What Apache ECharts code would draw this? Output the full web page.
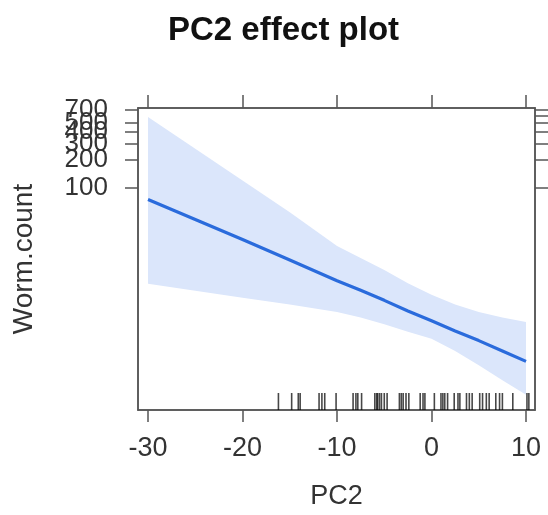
<!DOCTYPE html>
<html>
<head>
<meta charset="utf-8">
<script src="https://cdn.jsdelivr.net/npm/echarts@6/dist/echarts.min.js"></script>
<style>
html,body{margin:0;padding:0;background:#fff;}
#chart{width:548px;height:515px;}
</style>
</head>
<body>
<div id="chart"></div>
<script>
// ---- data ----
const pc2 = [-30, -25, -20, -15, -10, -7.5, -5, -2.5, 0, 2.5, 5, 7.5, 10];
const fitValues = [74, 45, 27.3, 16.4, 9.8, 7.7, 6.0, 4.6, 3.6, 2.8, 2.2, 1.7, 1.31];
const upperValues = [580, 263, 119, 54, 23.2, 17.2, 12.8, 9.2, 6.9, 5.4, 4.5, 3.9, 3.5];
const lowerValues = [9.06, 7.6, 6.4, 5.4, 4.5, 3.9, 3.3, 2.75, 2.3, 1.7, 1.19, 0.82, 0.57];
const rugValues = [-16.2, -14.8, -14.1, -13.9, -11.9, -11.6, -11.3, -10.1, -8.3, -8.0, -7.8,
  -7.4, -6.0, -5.8, -5.7, -5.5, -5.3, -5.0, -4.7, -3.4, -3.2, -3.0, -2.7, -2.4, -1.2, -0.9, -0.7, 0.3,
  1.0, 1.2, 1.4, 1.7, 2.4, 2.8, 3.0, 3.7, 4.0, 4.3, 5.1, 5.4, 5.8, 6.1, 6.8, 7.2, 7.5, 8.6, 10.1, 10.3];
const xTicks = [-30, -20, -10, 0, 10];
const yTicks = [100, 200, 300, 400, 500, 600, 700];
const xMin = -31.06, xMax = 10.95;
const yMin = 0.39, yMax = 725;

const chart = echarts.init(document.getElementById('chart'), null, {renderer: 'canvas'});
const font = '"Liberation Sans", Arial, Helvetica, sans-serif';
const frame = '#555';

const option = {
  animation: false,
  backgroundColor: '#fff',
  title: {
    text: 'PC2 effect plot',
    left: 163, top: 9,
    textStyle: {fontFamily: font, fontSize: 33, fontWeight: 'bold', color: '#111'}
  },
  grid: {left: 138, right: 13, top: 108, bottom: 103, show: true, borderColor: frame, borderWidth: 1.5},
  xAxis: [{
    type: 'value', min: xMin, max: xMax, position: 'bottom',
    name: 'PC2', nameLocation: 'middle', nameGap: 73,
    nameTextStyle: {fontFamily: font, fontSize: 27, color: '#333'},
    axisLine: {show: true, onZero: false, lineStyle: {color: frame, width: 1.5}},
    axisTick: {show: true, length: 12, customValues: xTicks, lineStyle: {color: frame, width: 1.5}},
    axisLabel: {show: true, customValues: xTicks, margin: 25, showMinLabel: true, showMaxLabel: true,
      fontFamily: font, fontSize: 27, color: '#333'},
    splitLine: {show: false}
  }, {
    type: 'value', min: xMin, max: xMax, position: 'top',
    axisLine: {show: true, onZero: false, lineStyle: {color: frame, width: 1.5}},
    axisTick: {show: true, length: 13, customValues: xTicks, lineStyle: {color: frame, width: 1.5}},
    axisLabel: {show: false},
    splitLine: {show: false}
  }],
  yAxis: [{
    type: 'log', logBase: 10, min: yMin, max: yMax, position: 'left',
    name: 'Worm.count', nameLocation: 'middle', nameGap: 100, nameRotate: 90,
    nameTextStyle: {fontFamily: font, fontSize: 28, color: '#333'},
    axisLine: {show: true, onZero: false, lineStyle: {color: frame, width: 1.5}},
    axisTick: {show: true, length: 13, customValues: yTicks, lineStyle: {color: frame, width: 1.5}},
    axisLabel: {show: true, customValues: yTicks, margin: 30, hideOverlap: false,
      showMinLabel: true, showMaxLabel: true,
      fontFamily: font, fontSize: 26, color: '#333'},
    splitLine: {show: false}
  }, {
    type: 'log', logBase: 10, min: yMin, max: yMax, position: 'right',
    axisLine: {show: true, onZero: false, lineStyle: {color: frame, width: 1.5}},
    axisTick: {show: true, length: 13, customValues: yTicks, lineStyle: {color: frame, width: 1.5}},
    axisLabel: {show: false},
    splitLine: {show: false}
  }],
  series: [{
    type: 'custom',
    name: 'band',
    xAxisIndex: 0, yAxisIndex: 0,
    silent: true,
    z: 1,
    data: [[0, 1]],
    renderItem: function (params, api) {
      const pts = [];
      for (let i = 0; i < pc2.length; i++) pts.push(api.coord([pc2[i], upperValues[i]]));
      for (let i = pc2.length - 1; i >= 0; i--) pts.push(api.coord([pc2[i], lowerValues[i]]));
      return {type: 'polygon', shape: {points: pts, smooth: 0}, style: {fill: '#dbe6fb', stroke: null}};
    }
  }, {
    type: 'line',
    name: 'fit',
    xAxisIndex: 0, yAxisIndex: 0,
    data: pc2.map((x, i) => [x, fitValues[i]]),
    showSymbol: false,
    smooth: false,
    z: 3,
    lineStyle: {color: '#2a6bdc', width: 3.2}
  }, {
    type: 'custom',
    name: 'rug',
    xAxisIndex: 0, yAxisIndex: 0,
    silent: true,
    z: 4,
    data: rugValues.map(v => [v, yMin]),
    renderItem: function (params, api) {
      const p = api.coord([api.value(0), yMin]);
      return {type: 'line', shape: {x1: p[0], y1: p[1], x2: p[0], y2: p[1] - 17},
        style: {stroke: 'rgba(0,0,0,0.72)', lineWidth: 1.6}};
    }
  }]
};
chart.setOption(option);
</script>
</body>
</html>
